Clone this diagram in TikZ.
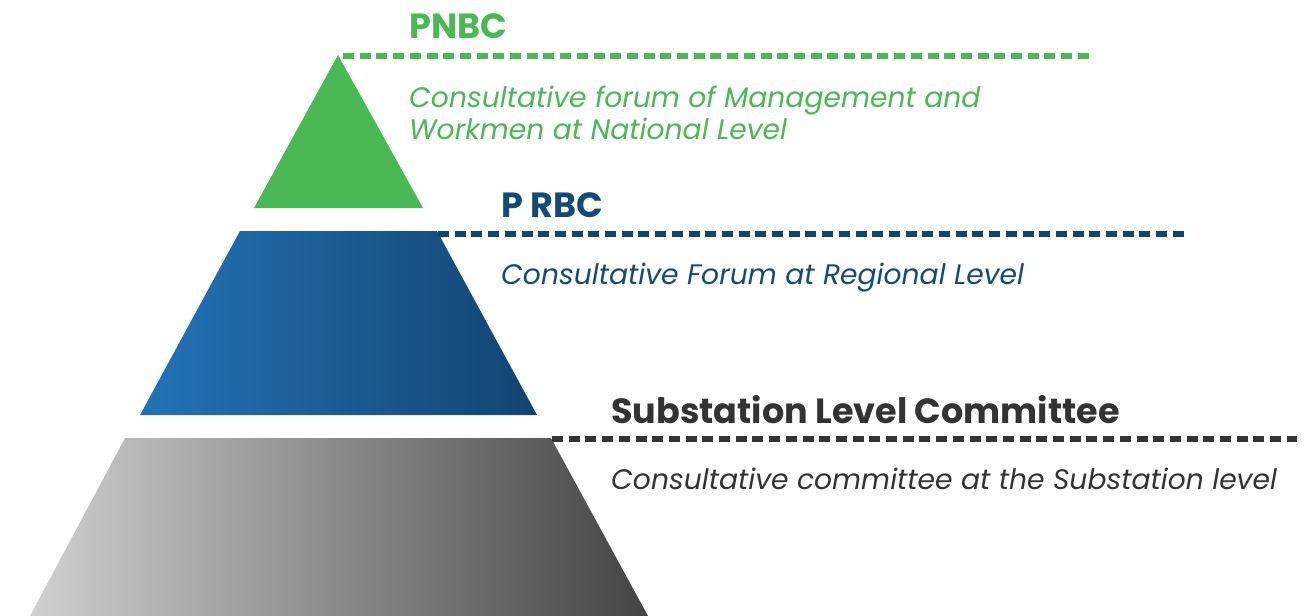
\documentclass[tikz,border=0pt]{standalone}
\usepackage{fontspec}
\setmainfont{Poppins}
\definecolor{pgreen}{HTML}{4BB856}
\definecolor{pblue}{HTML}{144A78}
\definecolor{blueL}{HTML}{2373B6}
\definecolor{blueR}{HTML}{134470}
\definecolor{grayL}{HTML}{D0D0D0}
\definecolor{grayR}{HTML}{454445}
\definecolor{ptext}{HTML}{333333}
\begin{document}
\begin{tikzpicture}[x=1pt,y=-1pt,
  dashline/.style={line width=5.5pt, dash pattern=on 11pt off 5.7pt},
  head/.style={anchor=base west, inner sep=0pt, font=\fontsize{35}{40}\selectfont\bfseries},
  desc/.style={anchor=base west, inner sep=0pt, align=left, font=\fontsize{28.2}{32}\selectfont\itshape}]
\useasboundingbox (0,0) rectangle (1307,616);
% pyramid layers
\coordinate (apex) at (338,55);
\fill[pgreen] (apex) -- (423,208) -- (254,208) -- cycle;
\shade[left color=blueL, right color=blueR] (240,231) -- (437,231) -- (537,415) -- (140,415) -- cycle;
\shade[left color=grayL, right color=grayR] (125,438) -- (551,438) -- (648,616) -- (30,616) -- cycle;
% dashed guide lines
\coordinate (g1) at (343,56);
\coordinate (g2) at (1090,56);
\coordinate (b1) at (438,234);
\coordinate (b2) at (1185,234);
\coordinate (k1) at (552,439);
\coordinate (k2) at (1297,439);
\draw[dashline, pgreen] (g1) -- (g2);
\draw[dashline, blueR] (b1) -- (b2);
\draw[dashline, ptext] (k1) -- (k2);
% labels
\node[head, text=pgreen] (pnbc) at (409,38) {PNBC};
\node[desc, text=pgreen] (pnbcd) at (409,139) {Consultative forum of Management and\\Workmen at National Level};
\node[head, text=pblue] (prbc) at (501,217) {P RBC};
\node[desc, text=pblue] (prbcd) at (501,284) {Consultative Forum at Regional Level};
\node[head, text=ptext] (slc) at (611,423) {Substation Level Committee};
\node[desc, text=ptext] (slcd) at (611,489) {Consultative committee at the Substation level};
\end{tikzpicture}
\end{document}
